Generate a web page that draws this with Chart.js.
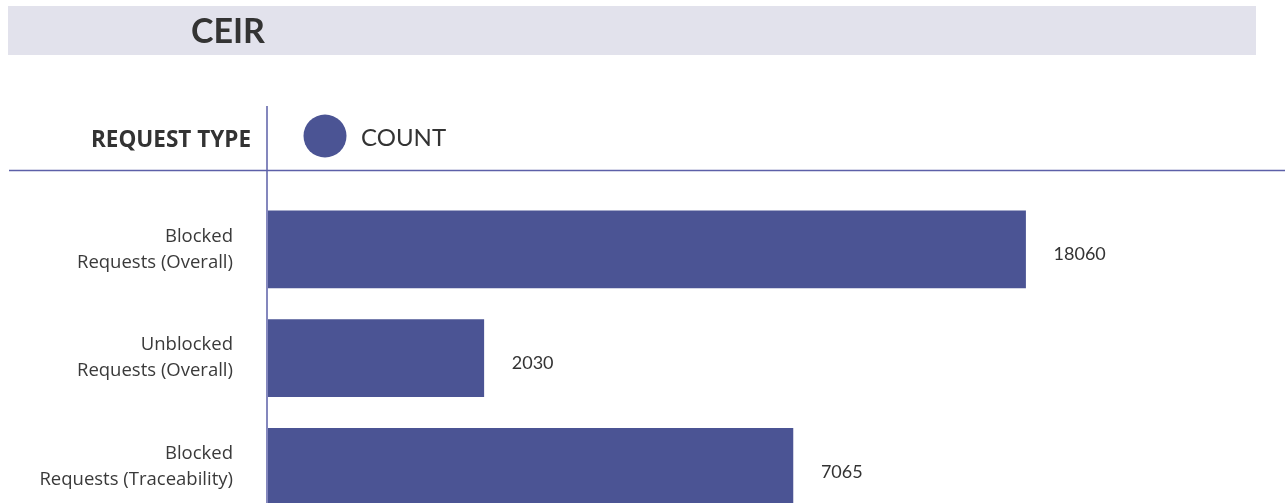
<!DOCTYPE html>
<html>
<head>
<meta charset="utf-8">
<script src="https://cdn.jsdelivr.net/npm/chart.js@4"></script>
<style>
  html, body { margin: 0; padding: 0; background: #fff; overflow: hidden; }
  canvas { display: block; }
</style>
</head>
<body>
<!-- taller than the window: the last bar is cut off at the bottom, as in the original -->
<canvas id="chart" width="1285" height="582"></canvas>
<script>
// chart data
const chartTitle = "CEIR";
const axisTitle = "REQUEST TYPE";
const seriesName = "COUNT";
const categories = [
  ["Blocked", "Requests (Overall)"],
  ["Unblocked", "Requests (Overall)"],
  ["Blocked", "Requests (Traceability)"]
];
const counts = [18060, 2030, 7065];

const barColor = "#4b5494";
const lineColor = "#5c60a8";
const textColor = "#333333";
const fontName = "Lato, 'Open Sans', sans-serif";
const labelFont = "'Open Sans', Lato, sans-serif";

// header, separator lines and value labels
const decor = {
  id: "decor",
  beforeDraw(chart) {
    const ctx = chart.ctx;
    ctx.save();
    ctx.fillStyle = "#e2e2ec";
    ctx.fillRect(8, 6, 1248, 49);
    ctx.fillStyle = textColor;
    ctx.font = "bold 34px " + fontName;
    ctx.textBaseline = "alphabetic";
    ctx.textAlign = "left";
    ctx.fillText(chartTitle, 191, 43);

    ctx.font = "bold 22.5px " + labelFont;
    ctx.textAlign = "right";
    ctx.fillText(axisTitle, 251, 147);

    ctx.fillStyle = barColor;
    ctx.beginPath();
    ctx.arc(325, 136, 21.5, 0, Math.PI * 2);
    ctx.fill();
    ctx.fillStyle = textColor;
    ctx.font = "24px " + fontName;
    ctx.textAlign = "left";
    ctx.fillText(seriesName, 361, 146);

    ctx.strokeStyle = lineColor;
    ctx.lineWidth = 1.5;
    ctx.beginPath();
    ctx.moveTo(9, 170.5);
    ctx.lineTo(1285, 170.5);
    ctx.moveTo(267, 106);
    ctx.lineTo(267, chart.height);
    ctx.stroke();
    ctx.restore();
  },
  afterDatasetsDraw(chart) {
    const ctx = chart.ctx;
    const meta = chart.getDatasetMeta(0);
    ctx.save();
    ctx.fillStyle = textColor;
    ctx.font = "18px " + fontName;
    ctx.textAlign = "left";
    ctx.textBaseline = "middle";
    meta.data.forEach((bar, i) => {
      ctx.fillText(String(counts[i]), bar.x + 28, bar.y + 5);
    });
    ctx.restore();
  }
};

new Chart(document.getElementById("chart"), {
  type: "bar",
  data: {
    labels: categories,
    datasets: [{
      label: seriesName,
      data: counts,
      backgroundColor: barColor,
      borderWidth: 0,
      barThickness: 77
    }]
  },
  options: {
    indexAxis: "y",
    responsive: false,
    animation: false,
    layout: { padding: { top: 195, bottom: 9, left: 0, right: 7 } },
    plugins: {
      legend: { display: false },
      tooltip: { enabled: false }
    },
    scales: {
      x: {
        type: "logarithmic",
        min: 850,
        max: 50000,
        display: false
      },
      y: {
        grid: { display: false, drawTicks: false },
        border: { display: false },
        afterFit: (scale) => { scale.width = 268; },
        ticks: {
          padding: 35,
          color: "#3a3a3a",
          font: { family: labelFont, size: 18.5, lineHeight: 1.4 }
        }
      }
    }
  },
  plugins: [decor]
});
</script>
</body>
</html>
